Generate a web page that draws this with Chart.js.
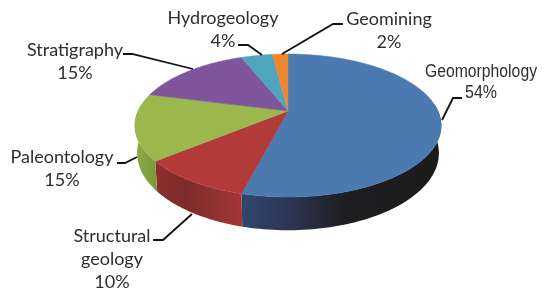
<!DOCTYPE html>
<html>
<head>
<meta charset="utf-8">
<style>
    html, body { margin: 0; padding: 0; background: #fff; }
    canvas { display: block; filter: blur(0.35px); }
</style>
<script src="https://cdn.jsdelivr.net/npm/chart.js@4/dist/chart.umd.min.js"></script>
</head>
<body>
<canvas id="pie-chart" width="550" height="298"></canvas>
<script>
var categories = ['Geomorphology', 'Structural geology', 'Paleontology', 'Stratigraphy', 'Hydrogeology', 'Geomining'];
var shares = [54, 10, 15, 15, 4, 2];

var faceColors = ['#4a7aaf', '#b23a39', '#9bb84d', '#7f569c', '#4fa5bd', '#ee8531'];
var wallStops = [
    [[0, '#30476f'], [0.25, '#2c3552'], [0.5, '#1f1f23'], [1, '#1b1b19']],
    [[0, '#8c2f2f'], [0.35, '#7e2b2b'], [1, '#a23636']],
    [[0, '#8fab47'], [1, '#7b993b']],
    [[0, '#000'], [1, '#000']],
    [[0, '#000'], [1, '#000']],
    [[0, '#000'], [1, '#000']]
];

//label placement, one entry per category
var labelSetup = [
    { x: 481, y: 72, gap: 21, font: '18px "Liberation Sans"', fit: [112, 32], lines: ['Geomorphology'], leader: [[462, 98], [453, 98], [442, 120]] },
    { x: 112, y: 236, lines: ['Structural', 'geology'], leader: [[153, 240], [163, 240], [192, 214]] },
    { x: 62, y: 157, lines: ['Paleontology'], leader: [[117, 163], [125, 163], [137, 157]] },
    { x: 75, y: 50, lines: ['Stratigraphy'], leader: [[123, 54], [132, 54], [193, 69]] },
    { x: 223, y: 18, lines: ['Hydrogeology'], leader: [[238, 45], [248, 45], [262, 55]] },
    { x: 389, y: 19, lines: ['Geomining'], leader: [[343, 24], [333, 24], [282, 54]] }
];

var squash = 0.457; //vertical flattening of the disc
var perspective = 0.203;
var depth = 26.5;
var lineGap = 23;

//disc angle -> picture position, near side drawn bigger
function project(el, angle, lift) {
    var u = Math.cos(angle);
    var v = Math.sin(angle);
    var w = 1 - perspective * v;
    return {
        x: el.x + el.outerRadius * u / w * (lift ? 0.985 : 1),
        y: el.y + el.outerRadius * squash * v / w + (lift ? depth / w : 0)
    };
}

function drawWall(ctx, el, index) {
    var from = Math.max(el.startAngle, -0.1);
    var to = Math.min(el.endAngle, Math.PI + 0.1);
    if (to <= from) {
        return;
    }
    var top = [];
    var bottom = [];
    var minX = Infinity;
    var maxX = -Infinity;
    for (var i = 0; i <= 80; i++) {
        var a = from + (to - from) * i / 80;
        var p = project(el, a, false);
        top.push(p);
        bottom.push(project(el, a, true));
        minX = Math.min(minX, p.x);
        maxX = Math.max(maxX, p.x);
    }
    var gradient = ctx.createLinearGradient(minX, 0, maxX, 0);
    wallStops[index].forEach(function (stop) {
        gradient.addColorStop(stop[0], stop[1]);
    });
    ctx.beginPath();
    top.forEach(function (p, n) {
        if (n == 0) {
            ctx.moveTo(p.x, p.y);
        } else {
            ctx.lineTo(p.x, p.y);
        }
    });
    bottom.reverse().forEach(function (p) {
        ctx.lineTo(p.x, p.y);
    });
    ctx.closePath();
    ctx.fillStyle = gradient;
    ctx.fill();
}

function drawFace(ctx, el, index) {
    ctx.beginPath();
    ctx.moveTo(el.x, el.y);
    for (var i = 0; i <= 120; i++) {
        var p = project(el, el.startAngle + (el.endAngle - el.startAngle) * i / 120, false);
        ctx.lineTo(p.x, p.y);
    }
    ctx.closePath();
    ctx.fillStyle = faceColors[index];
    ctx.fill();
    ctx.strokeStyle = faceColors[index];
    ctx.lineWidth = 0.5;
    ctx.stroke();
}

function drawLabels(ctx) {
    ctx.fillStyle = '#2e2e2e';
    ctx.textAlign = 'center';
    ctx.textBaseline = 'middle';
    ctx.strokeStyle = '#111';
    ctx.lineWidth = 1.8;
    labelSetup.forEach(function (label, index) {
        ctx.font = label.font || '18px Lato';
        label.lines.concat(shares[index] + '%').forEach(function (text, n) {
            var y = label.y + n * (label.gap || lineGap);
            if (label.fit) {
                ctx.fillText(text, label.x, y, label.fit[n]);
            } else {
                ctx.fillText(text, label.x, y);
            }
        });
        ctx.beginPath();
        label.leader.forEach(function (p, n) {
            if (n == 0) {
                ctx.moveTo(p[0], p[1]);
            } else {
                ctx.lineTo(p[0], p[1]);
            }
        });
        ctx.stroke();
    });
}

//the library works out the angles, this plugin only paints them as a tilted disc
var tiltedPie = {
    id: 'tiltedPie',
    beforeDatasetDraw: function (chart) {
        var ctx = chart.ctx;
        var arcs = chart.getDatasetMeta(0).data;
        ctx.save();
        arcs.forEach(function (el, i) {
            drawWall(ctx, el, i);
        });
        arcs.forEach(function (el, i) {
            drawFace(ctx, el, i);
        });
        drawLabels(ctx);
        ctx.restore();
        return false;
    }
};

new Chart(document.getElementById('pie-chart').getContext('2d'), {
    type: 'pie',
    data: {
        labels: categories,
        datasets: [{
            data: shares,
            backgroundColor: faceColors,
            borderWidth: 0
        }]
    },
    options: {
        responsive: false,
        animation: false,
        radius: 150,
        layout: { padding: { left: 26, bottom: 76 } },
        plugins: {
            legend: { display: false },
            tooltip: { enabled: false }
        }
    },
    plugins: [tiltedPie]
});
</script>
</body>
</html>
